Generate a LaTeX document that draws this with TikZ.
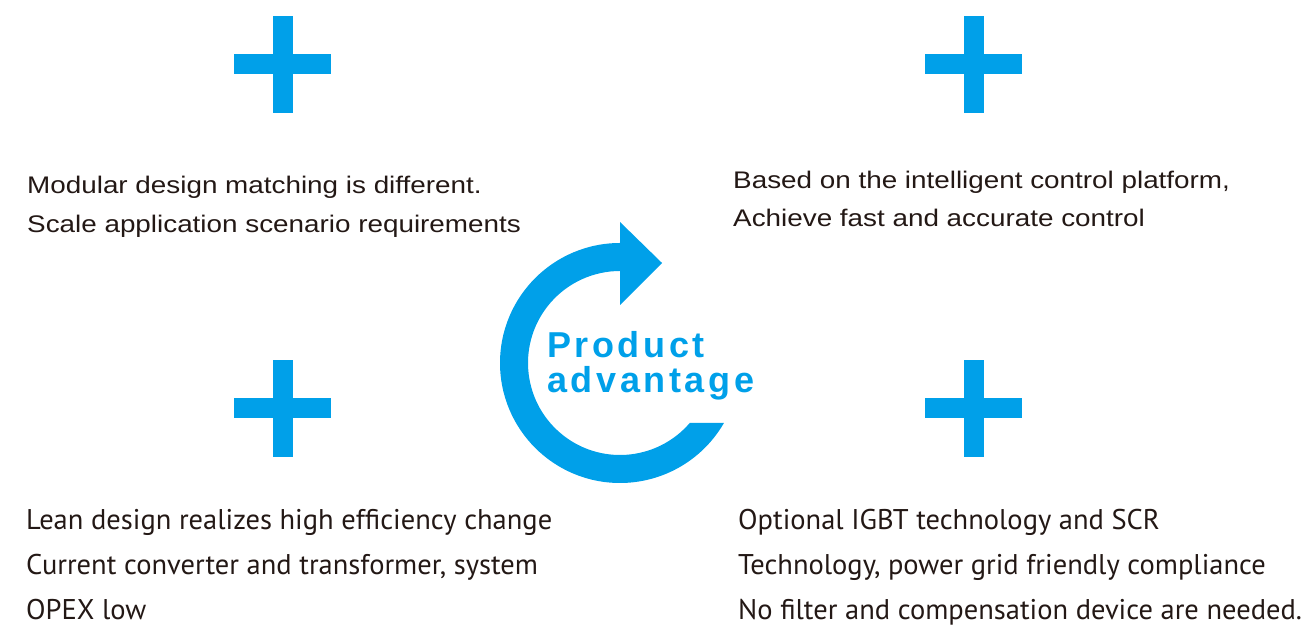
\documentclass[tikz,border=0pt]{standalone}
\usepackage{fontspec}
\usetikzlibrary{calc}
\setmainfont{Liberation Sans}
\newfontfamily\topfont[FakeStretch=1.16]{Liberation Sans}
\newfontfamily\lowfont{PT Sans}
\newfontfamily\badgefont[LetterSpace=10]{Liberation Sans}
\definecolor{advblue}{HTML}{00A0E9}
\definecolor{inkdark}{HTML}{231815}
\tikzset{
  upper/.style={anchor=base west, inner sep=0pt, text=inkdark, font=\topfont\fontsize{24}{28}\selectfont},
  lower/.style={anchor=base west, inner sep=0pt, text=inkdark, font=\lowfont\fontsize{28.5}{32}\selectfont},
  badge/.style={anchor=base west, inner sep=0pt, text=advblue, font=\badgefont\bfseries\fontsize{36}{40}\selectfont}
}
\begin{document}
\begin{tikzpicture}[x=1pt,y=1pt]
\useasboundingbox (0,0) rectangle (1313,628);
% plus signs
\foreach \px/\py in {282.5/563.5, 973.5/563.5, 282.5/219.5, 973.5/219.5} {
  \fill[advblue] (\px-48.5,\py-10) rectangle (\px+48.5,\py+10);
  \fill[advblue] (\px-10,\py-48.5) rectangle (\px+10,\py+48.5);
}
% circular arrow
\coordinate (ring) at (620,265);
\fill[advblue] (620,385) arc[start angle=90, end angle=330, radius=120pt]
  -- ($(ring)+(319.3:92pt)$) arc[start angle=319.3, end angle=90, radius=92pt]
  -- (620,323) -- (662,365) -- (620,406) -- cycle;
\node[badge] (prod) at (547,270) {Product};
\node[badge] (adv) at (547,235) {advantage};
% texts
\node[upper] (tl1) at (27,434) {Modular design matching is different.};
\node[upper] (tl2) at (27,395) {Scale application scenario requirements};
\node[upper] (tr1) at (733,439) {Based on the intelligent control platform,};
\node[upper] (tr2) at (733,401) {Achieve fast and accurate control};
\node[lower] (bl1) at (26,98) {Lean design realizes high efficiency change};
\node[lower] (bl2) at (26,53) {Current converter and transformer, system};
\node[lower] (bl3) at (26,8) {OPEX low};
\node[lower] (br1) at (738,98) {Optional IGBT technology and SCR};
\node[lower] (br2) at (738,53) {Technology, power grid friendly compliance};
\node[lower] (br3) at (738,8) {No filter and compensation device are needed.};
\end{tikzpicture}
\end{document}
